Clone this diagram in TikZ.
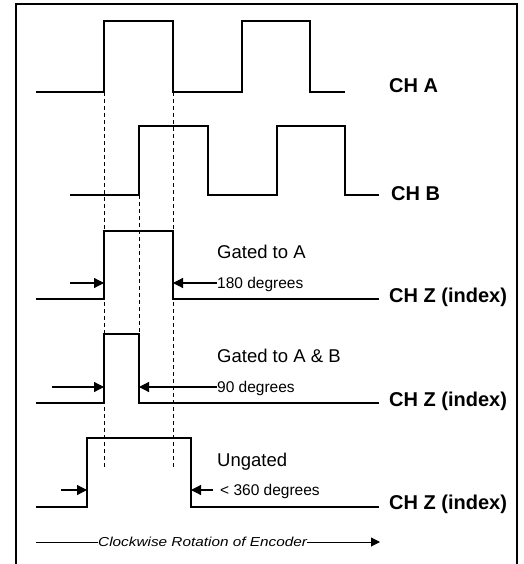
\documentclass[tikz,border=0pt]{standalone}
\usepackage{fontspec}
\setmainfont{Liberation Sans}
\usetikzlibrary{arrows.meta}
\tikzset{
  sig/.style={line width=2.2pt, line join=miter},
  guide/.style={line width=1pt, dash pattern=on 4pt off 3pt},
  dimarr/.style={line width=1.2pt, -{Triangle[length=10pt,width=10pt]}},
  chlabel/.style={anchor=base west, inner sep=0pt, font=\fontsize{20}{22}\selectfont\bfseries},
  gatelabel/.style={anchor=base west, inner sep=0pt, font=\fontsize{18.5}{21}\selectfont},
  deglabel/.style={anchor=base west, inner sep=0pt, font=\fontsize{15.5}{18}\selectfont},
  rotlabel/.style={inner sep=0pt, font=\fontsize{13}{15}\selectfont\itshape},
}
\begin{document}
\begin{tikzpicture}[x=1pt,y=-1pt]
\useasboundingbox (0,0) rectangle (523,564);
% frame
\draw[line width=2.2pt] (16,570) -- (16,4) -- (517,4) -- (517,570);
% guides
\draw[guide] (104,92) -- (104,468);
\draw[guide] (173,92) -- (173,468);
\draw[guide] (139,195) -- (139,334);
% CH A
\draw[sig] (36,92) -- (104,92) -- (104,21) -- (173,21) -- (173,92) -- (242,92) -- (242,21) -- (310,21) -- (310,92) -- (345,92);
\node[chlabel] (cha) at (389,93) {CH A};
% CH B
\draw[sig] (70,195) -- (139,195) -- (139,126) -- (208,126) -- (208,195) -- (277,195) -- (277,126) -- (345,126) -- (345,195) -- (379,195);
\node[chlabel] (chb) at (391,200) {CH B};
% Z1
\draw[sig] (36,299) -- (104,299) -- (104,231) -- (173,231) -- (173,299) -- (379,299);
\node[chlabel] (z1) at (389,302) {CH Z (index)};
\node[gatelabel] (g1) at (217,258) {Gated to A};
\node[deglabel] (d1) at (217,288) {180 degrees};
\coordinate (l1s) at (70,283);
\coordinate (l1e) at (104,283);
\coordinate (r1e) at (173,283);
\draw[dimarr] (l1s) -- (l1e);
\draw[dimarr] (d1.west |- r1e) -- (r1e);
% Z2
\draw[sig] (36,403) -- (104,403) -- (104,334) -- (139,334) -- (139,403) -- (379,403);
\node[chlabel] (z2) at (389,406) {CH Z (index)};
\node[gatelabel] (g2) at (217,362) {Gated to A \& B};
\node[deglabel] (d2) at (217,392) {90 degrees};
\coordinate (l2s) at (52,387);
\coordinate (l2e) at (104,387);
\coordinate (r2e) at (139,387);
\draw[dimarr] (l2s) -- (l2e);
\draw[dimarr] (d2.west |- r2e) -- (r2e);
% Z3
\draw[sig] (36,507) -- (87,507) -- (87,438) -- (191,438) -- (191,507) -- (379,507);
\node[chlabel] (z3) at (389,509) {CH Z (index)};
\node[gatelabel] (g3) at (217,466) {Ungated};
\node[deglabel] (d3) at (220,495) {< 360 degrees};
\coordinate (l3s) at (61,490);
\coordinate (l3e) at (87,490);
\coordinate (r3s) at (213,490);
\coordinate (r3e) at (191,490);
\draw[dimarr] (l3s) -- (l3e);
\draw[dimarr] (r3s) -- (r3e);
% rotation
\node[rotlabel, anchor=west] (rot) at (98,542) {\scalebox{1.18}[1]{Clockwise Rotation of Encoder}};
\coordinate (rs) at (36,542);
\coordinate (re) at (380,542);
\draw[line width=1pt] (rs) -- (rot.west);
\draw[line width=1pt, -{Triangle[length=9pt,width=9pt]}] (rot.east) -- (re);
\end{tikzpicture}
\end{document}
